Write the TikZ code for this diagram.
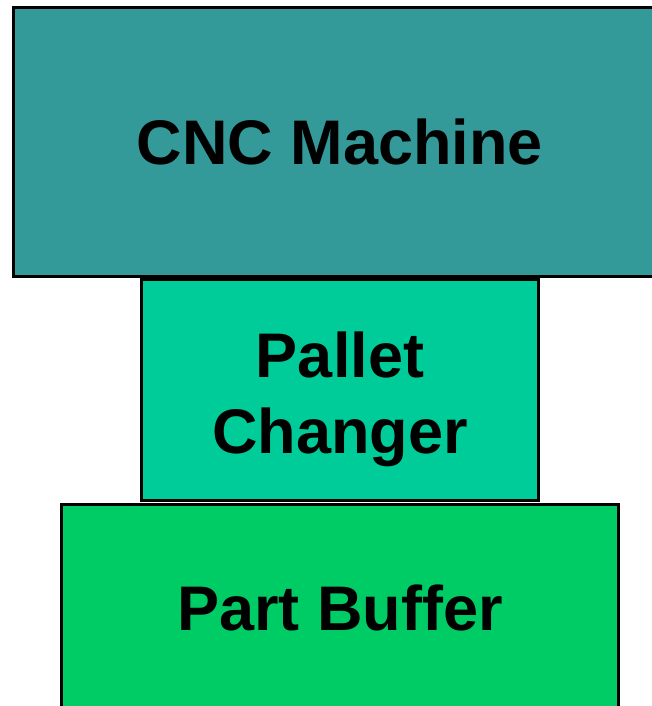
\documentclass[tikz,border=0pt]{standalone}
\usepackage{fontspec}
\setmainfont{Liberation Sans}
\definecolor{cncfill}{HTML}{339999}
\definecolor{palletfill}{HTML}{00CC99}
\definecolor{bufferfill}{HTML}{00CC66}
\begin{document}
\begin{tikzpicture}[x=0.75pt,y=-0.75pt,
  block/.style={draw=black, line width=2.25pt, inner sep=0pt, align=center,
    font=\fontsize{47.25}{57}\selectfont\bfseries},
  caption/.style={inner sep=0pt, align=center,
    font=\fontsize{47.25}{57}\selectfont\bfseries}]
  \useasboundingbox (0,0) rectangle (652,706);
  % machining cell stack: machine, pallet changer, buffer
  \node[block, fill=cncfill, minimum width=489.75pt, minimum height=201.375pt]
    (cnc) at (340,141.75) {CNC Machine};
  \node[block, fill=palletfill, minimum width=297.75pt, minimum height=165.375pt]
    (pallet) at (340,389.75) {};
  \node[caption] (pallettext) at (340,399) {Pallet\\Changer};
  \node[block, fill=bufferfill, minimum width=417.75pt, minimum height=155.25pt]
    (buffer) at (340,608) {Part Buffer};
\end{tikzpicture}
\end{document}
